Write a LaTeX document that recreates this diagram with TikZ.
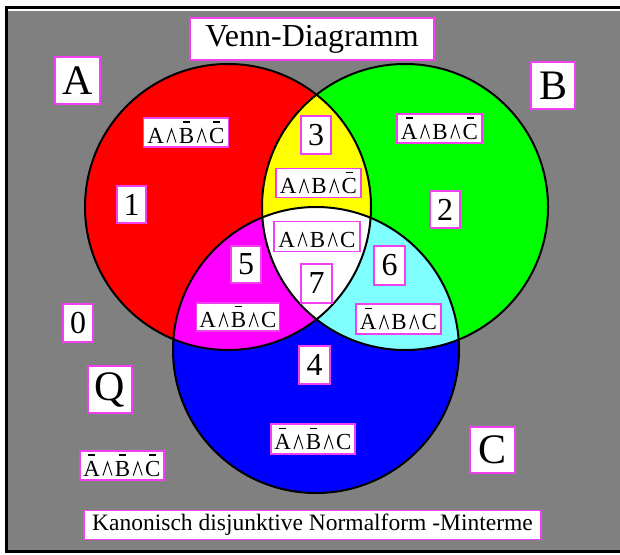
\documentclass[tikz,border=0pt]{standalone}
\usepackage{fontspec}
\setmainfont{Liberation Serif}
\definecolor{mag}{RGB}{240,64,240}
\definecolor{cyanl}{RGB}{128,255,255}
\definecolor{bggray}{RGB}{128,128,128}
\definecolor{pred}{RGB}{255,0,0}
\definecolor{pgreen}{RGB}{0,255,0}
\definecolor{pblue}{RGB}{0,0,255}
\definecolor{pyellow}{RGB}{255,255,0}
\definecolor{pmag}{RGB}{255,0,255}
\newcommand\nbar[1]{\sbox0{#1}\makebox[0pt][l]{\makebox[\wd0]{\rule[0.88em]{0.3em}{0.065em}}}#1}
\newsavebox\wdgbox
\newcommand\wdg{\hspace{2.5pt}\usebox\wdgbox\hspace{2.5pt}}
\begin{document}
\sbox\wdgbox{\begin{pgfpicture}\pgfsetlinewidth{0.9pt}\pgfsetmiterjoin
\pgfpathmoveto{\pgfpoint{0pt}{0pt}}\pgfpathlineto{\pgfpoint{4.5pt}{13.5pt}}\pgfpathlineto{\pgfpoint{9pt}{0pt}}\pgfusepath{stroke}\end{pgfpicture}}%
\begin{tikzpicture}[x=1pt,y=-1pt,
  lbl/.style={draw=mag, fill=white, line width=1.5pt, inner sep=0pt, text=black},
  mt/.style={lbl, minimum width=85pt, minimum height=29pt, text height=21pt, text depth=0pt, font=\fontsize{23}{23}\selectfont},
  dg/.style={lbl, minimum width=30pt, minimum height=38pt, font=\fontsize{32}{32}\selectfont},
  big/.style={lbl, minimum width=45pt, minimum height=47pt, font=\fontsize{42}{42}\selectfont},
  ring/.style={line width=2pt, draw=black}]
\useasboundingbox (0,0) rectangle (620,554);
\fill[bggray] (8,9) rectangle (640,550);
\draw[line width=3pt] (640,7) -- (6.5,7) -- (6.5,551.5) -- (640,551.5);
\draw[white, line width=1.5pt] (8,9.75) -- (640,9.75);
\coordinate (cA) at (228,207);
\coordinate (cB) at (405,207);
\coordinate (cC) at (316,350);
\fill[pred] (cA) circle (143pt);
\fill[pgreen] (cB) circle (143pt);
\fill[pblue] (cC) circle (143pt);
\begin{scope}
  \clip (cA) circle (143pt);
  \fill[pyellow] (cB) circle (143pt);
  \fill[pmag] (cC) circle (143pt);
\end{scope}
\begin{scope}
  \clip (cB) circle (143pt);
  \fill[cyanl] (cC) circle (143pt);
\end{scope}
\begin{scope}
  \clip (cA) circle (143pt);
  \clip (cB) circle (143pt);
  \fill[white] (cC) circle (143pt);
\end{scope}
\draw[ring] (cA) circle (143pt);
\draw[ring] (cB) circle (143pt);
\draw[ring] (cC) circle (143pt);
% titles
\node[lbl, minimum width=244pt, minimum height=42pt, font=\fontsize{32}{32}\selectfont] (title) at (312,39) {Venn-Diagramm};
\node[lbl, minimum width=457pt, minimum height=29pt, font=\fontsize{23.5}{23.5}\selectfont] (foot) at (312.5,525) {Kanonisch disjunktive Normalform -Minterme};
% set letters
\node[big] (lA) at (77.5,80.5) {A};
\node[big, minimum width=44pt] (lB) at (553,85.5) {B};
\node[big, minimum height=46pt] (lC) at (492.5,450) {C};
\node[big, minimum width=44pt] (lQ) at (110,389.5) {Q};
% numbers
\node[dg] (n0) at (78,323) {0};
\node[dg, minimum width=29pt, minimum height=37pt] (n1) at (131.5,204.5) {1};
\node[dg, minimum height=37pt] (n2) at (445,209.5) {2};
\node[dg] (n3) at (316,135) {3};
\node[dg, minimum width=31pt] (n4) at (314.5,365) {4};
\node[dg, minimum height=37pt] (n5) at (246,264.5) {5};
\node[dg, minimum width=31pt, minimum height=39pt] (n6) at (389.5,265.5) {6};
\node[dg, minimum width=31pt, minimum height=39pt] (n7) at (316.5,283.5) {7};
% minterms
\node[mt] (m1) at (186,132.5) {A\wdg\nbar{B}\wdg\nbar{C}};
\node[mt] (m2) at (439.5,128.5) {\nbar{A}\wdg B\wdg\nbar{C}};
\node[mt] (m3) at (318.5,183) {A\wdg B\wdg\nbar{C}};
\node[mt, minimum width=86pt, minimum height=30pt] (m7) at (317,236.5) {A\wdg B\wdg C};
\node[mt, minimum width=83pt, minimum height=28pt] (m5) at (238,317) {A\wdg\nbar{B}\wdg C};
\node[mt, minimum height=30pt] (m6) at (398.5,319) {\nbar{A}\wdg B\wdg C};
\node[mt, minimum width=84pt, minimum height=30pt] (m4) at (313,439) {\nbar{A}\wdg\nbar{B}\wdg C};
\node[mt, minimum width=84pt] (m0) at (122,465.5) {\nbar{A}\wdg\nbar{B}\wdg\nbar{C}};
\end{tikzpicture}
\end{document}
